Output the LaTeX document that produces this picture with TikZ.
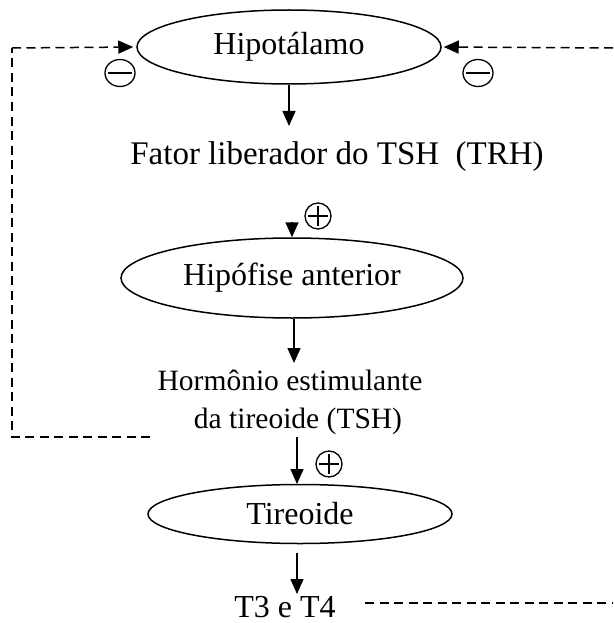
\documentclass[tikz,border=0pt]{standalone}
\usepackage{fontspec}
\setmainfont{Liberation Serif}
\usetikzlibrary{shapes.geometric,arrows.meta}
\begin{document}
\begin{tikzpicture}[x=1pt,y=-1pt,
  organ/.style={draw,ellipse,line width=1.5pt,inner sep=0pt,font=\fontsize{32}{36}\selectfont},
  lbl/.style={font=\fontsize{32}{36}\selectfont,inner sep=0pt,anchor=base},
  small/.style={font=\fontsize{29.5}{34}\selectfont},
  tip/.style={-{Triangle[length=15pt,width=13pt]}},
  arr/.style={line width=1.5pt,tip},
  fb/.style={line width=1.5pt,dash pattern=on 9pt off 5.5pt},
  sgn/.style={draw,ellipse,line width=1.3pt,minimum width=30pt,minimum height=27pt,inner sep=0pt},
  sgnline/.style={line width=1.3pt},
]
\useasboundingbox (0,0) rectangle (613,623);

% organs and labels
\node[organ,minimum width=304pt,minimum height=74pt] (hyp) at (289,47) {Hipotálamo};
\node[lbl,font=\fontsize{33}{36}\selectfont] (trh) at (337,164) {Fator liberador do TSH\ \ (TRH)};
\node[organ,minimum width=342pt,minimum height=80pt] (hip) at (292,278) {Hipófise anterior};
\node[lbl,small] (tsh1) at (290,390) {Hormônio estimulante};
\node[lbl,small] (tsh2) at (298,428) {da tireoide (TSH)};
\node[organ,minimum width=304pt,minimum height=59pt] (tir) at (300,514) {Tireoide};
\node[lbl] (t34) at (285,617) {T3 e T4};

% signs
\node[sgn] (mL) at (120,73) {};
\draw[sgnline] ([xshift=4pt]mL.west) -- ([xshift=-4pt]mL.east);
\node[sgn] (mR) at (478,73) {};
\draw[sgnline] ([xshift=4pt]mR.west) -- ([xshift=-4pt]mR.east);
\node[sgn,minimum width=26pt,minimum height=26pt] (p1) at (318,216) {};
\draw[sgnline] ([xshift=4pt]p1.west) -- ([xshift=-4pt]p1.east);
\draw[sgnline] ([yshift=-4pt]p1.north) -- ([yshift=4pt]p1.south);
\node[sgn,minimum width=26pt,minimum height=26pt] (p2) at (329,464) {};
\draw[sgnline] ([xshift=4pt]p2.west) -- ([xshift=-4pt]p2.east);
\draw[sgnline] ([yshift=-4pt]p2.north) -- ([yshift=4pt]p2.south);

% connector end points
\coordinate (e1) at (289,126);
\coordinate (s2) at (292,222);
\coordinate (e3) at (294,363);
\coordinate (s4) at (297,437);
\coordinate (e4) at (297,484);
\coordinate (s5) at (297,553);
\coordinate (e5) at (297,594);
\coordinate (fbL0) at (150,437);
\coordinate (fbL1) at (12,437);
\coordinate (fbL2) at (12,48);
\coordinate (fbR) at (613,48);
\coordinate (fbB0) at (365,603);
\coordinate (fbB1) at (613,603);

% main arrows
\draw[arr] (hyp.south) -- (e1);
\draw[arr] (s2) -- (hip.north);
\draw[arr] (hip.south -| e3) -- (e3);
\draw[arr] (s4) -- (e4);
\draw[arr] (s5) -- (e5);

% feedback
\draw[fb] (fbL0) -- (fbL1) -- (fbL2);
\draw[fb,tip,shorten >=3pt] (fbL2) -- (hyp.west);
\draw[fb,tip,shorten >=2pt] (fbR) -- (hyp.east);
\draw[fb] (fbB0) -- (fbB1);
\end{tikzpicture}
\end{document}
